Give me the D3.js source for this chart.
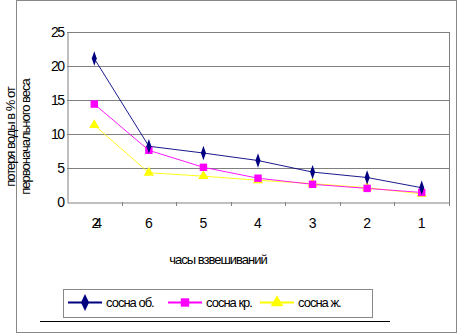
<!DOCTYPE html>
<html><head><meta charset="utf-8">
<script src="https://cdn.jsdelivr.net/npm/d3@7"></script>
<style>body{margin:0;background:#fff}text{font-family:"Liberation Sans",Arial,sans-serif}</style>
</head><body>
<svg id="c" width="458" height="334"></svg>
<script>
const categories = ["24","6","5","4","3","2","1"];
const seriesNames = ["сосна об.","сосна кр.","сосна ж."];
const sosnaOb = [21.1, 8.2, 7.2, 6.1, 4.4, 3.6, 2.1];
const sosnaKr = [14.4, 7.6, 5.1, 3.5, 2.6, 2.0, 1.4];
const sosnaZh = [11.3, 4.3, 3.8, 3.2, 2.7, 2.1, 1.2];
const yTicks = [0,5,10,15,20,25];
const colors = ["#000080","#ff00ff","#ffff00"];
const symbols = [d3.symbolDiamond, d3.symbolSquare, d3.symbolTriangle];

const svg = d3.select("#c");
svg.append("rect").attr("x",16.5).attr("y",0.5).attr("width",440).attr("height",332).attr("fill","#fff").attr("stroke","#888");

const x = d3.scaleBand().domain(categories).range([67,449]);
const y = d3.scaleLinear().domain([0,25]).range([202,32]);

svg.append("g").selectAll("line").data(yTicks.slice(1)).join("line")
  .attr("x1",67).attr("x2",449).attr("y1",d=>Math.round(y(d))+0.5).attr("y2",d=>Math.round(y(d))+0.5)
  .attr("stroke","#808080");
svg.append("line").attr("x1",449.5).attr("x2",449.5).attr("y1",y(25)).attr("y2",y(0)).attr("stroke","#808080");

const ya = svg.append("g").attr("transform","translate(67.5,0)")
  .call(d3.axisLeft(y).tickValues(yTicks).tickSize(0).tickPadding(4));
ya.select(".domain").attr("stroke","#808080");
ya.selectAll("text").attr("font-size",14).attr("letter-spacing","-1.5").attr("fill","#000").attr("font-family","Liberation Sans, Arial");

const xa = svg.append("g").attr("transform","translate(0,202.5)")
  .call(d3.axisBottom(x).tickSize(0).tickPadding(16));
xa.select(".domain").attr("stroke","#808080");
xa.selectAll("text").attr("font-size",14).attr("fill","#000").attr("font-family","Liberation Sans, Arial");
xa.selectAll("text").filter(d=>d==="24").attr("letter-spacing","-5");
svg.append("g").selectAll("line").data(categories.slice(1).concat(["end"])).join("line")
  .attr("x1",(d,i)=>Math.round(x.range()[0]+x.bandwidth()*(i+1))+0.5)
  .attr("x2",(d,i)=>Math.round(x.range()[0]+x.bandwidth()*(i+1))+0.5)
  .attr("y1",202).attr("y2",206).attr("stroke","#808080");

const cx = d => x(d)+x.bandwidth()/2;
const line = d3.line().x((d,i)=>cx(categories[i])).y(d=>y(d));
const all = [sosnaOb, sosnaKr, sosnaZh];
all.slice().reverse().forEach((s,ri)=>{
  const k = 2-ri;
  svg.append("path").datum(s).attr("d",line).attr("fill","none").attr("stroke",colors[k]).attr("stroke-width",0.9);
});
all.slice().reverse().forEach((s,ri)=>{
  const k = 2-ri;
  svg.append("g").selectAll("path").data(s).join("path")
    .attr("transform",(d,i)=>`translate(${cx(categories[i])},${y(d)})` + (k===0?" scale(0.7,1.15)":""))
    .attr("d",d3.symbol().type(symbols[k]).size(k===1?55:45))
    .attr("fill",colors[k]);
});

svg.append("text").attr("x",218).attr("y",264).attr("text-anchor","middle").attr("font-size",13).attr("letter-spacing","-1").text("часы взвешиваний");
const yt = svg.append("text").attr("transform","translate(10,137) rotate(-90)").attr("text-anchor","middle").attr("font-size",13).attr("letter-spacing","-1");
yt.append("tspan").attr("x",0).attr("dy","0.35em").text("потеря воды в % от");
yt.append("tspan").attr("x",0).attr("dy","1.15em").text("первоначального веса");

svg.append("rect").attr("x",63.5).attr("y",289.5).attr("width",309).attr("height",28).attr("fill","#fff").attr("stroke","#888");
const lx = [68,168,260];
seriesNames.forEach((n,k)=>{
  const g = svg.append("g");
  g.append("line").attr("x1",lx[k]).attr("x2",lx[k]+34).attr("y1",302.5).attr("y2",302.5).attr("stroke",colors[k]).attr("stroke-width",2);
  g.append("path").attr("transform",`translate(${lx[k]+17},302.5)`+(k===0?" scale(0.9,1.1)":""))
    .attr("d",d3.symbol().type(symbols[k]).size(70)).attr("fill",colors[k]);
  g.append("text").attr("x",lx[k]+38).attr("y",307).attr("font-size",13).attr("letter-spacing","-1").text(n);
});
svg.append("line").attr("x1",40).attr("x2",390).attr("y1",321.5).attr("y2",321.5).attr("stroke","#000").attr("stroke-width",1.2);
</script>
</body></html>
